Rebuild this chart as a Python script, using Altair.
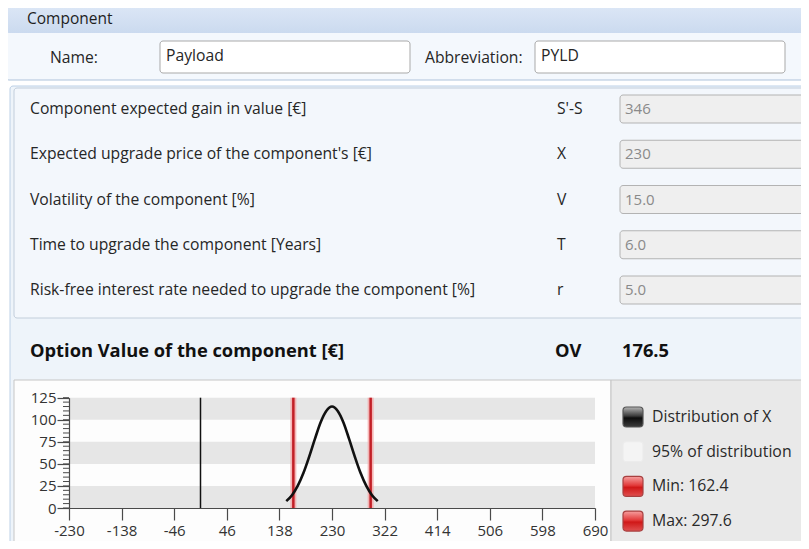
import altair as alt
import pandas as pd

# ---------------- data ----------------
header_title = "Component"
name_label, name_value = "Name:", "Payload"
abbr_label, abbr_value = "Abbreviation:", "PYLD"

param_labels = [
    "Component expected gain in value [€]",
    "Expected upgrade price of the component's [€]",
    "Volatility of the component [%]",
    "Time to upgrade the component [Years]",
    "Risk-free interest rate needed to upgrade the component [%]",
]
param_symbols = ["S'-S", "X", "V", "T", "r"]
param_values = ["346", "230", "15.0", "6.0", "5.0"]

ov_label, ov_symbol, ov_value = "Option Value of the component [€]", "OV", "176.5"

x_ticks = [-230, -138, -46, 46, 138, 230, 322, 414, 506, 598, 690]
y_ticks = [0, 25, 50, 75, 100, 125]
y_minor = [0, 5, 10, 15, 20, 25, 30, 35, 40, 45, 50, 55, 60, 65, 70, 75, 80,
           85, 90, 95, 100, 105, 110, 115, 120, 125]
band_lo = [0, 50, 100]
band_hi = [25, 75, 125]

curve_x = [150, 160, 170, 180, 190, 200, 210, 220, 230, 240, 250, 260, 270, 280, 290, 300, 310]
curve_y = [7.8, 14.5, 25, 39.6, 58, 78, 97, 110, 115, 110, 97, 78, 58, 39.6, 25, 14.5, 7.8]

dist_min, dist_max = 162.4, 297.6
zero_x = 0

legend_labels = ["Distribution of X", "95% of distribution", "Min: 162.4", "Max: 297.6"]

# ---------------- layout helpers ----------------
W, H = 793, 533
FONT = "Open Sans"
ONE = pd.DataFrame({"a": [0]})
FS = 15.7


def P(v):
    return v - 8


def grad(stops):
    return alt.LinearGradient(
        gradient="linear", x1=0, x2=0, y1=0, y2=1,
        stops=[alt.GradientStop(color=c, offset=o) for o, c in stops],
    )


def box(x1, y1, x2, y2, fill, stroke=None, sw=1.0, r=0):
    kw = dict(fill=fill, cornerRadius=r)
    if stroke:
        kw.update(stroke=stroke, strokeWidth=sw)
    else:
        kw.update(strokeWidth=0)
    return alt.Chart(ONE).mark_rect(**kw).encode(
        x=alt.value(P(x1)), x2=alt.value(P(x2)),
        y=alt.value(P(y1)), y2=alt.value(P(y2)),
    )


def txt(s, x, y, size=FS, weight="normal", color="#262626", align="left"):
    return alt.Chart(pd.DataFrame({"t": [s]})).mark_text(
        align=align, baseline="middle", font=FONT, fontSize=size,
        fontWeight=weight, color=color,
    ).encode(x=alt.value(P(x)), y=alt.value(P(y)), text="t:N")


layers = []

# ---------------- top "Component" panel ----------------
layers.append(box(5, 5, 820, 80, "#f4f8fd", "#aec3db", 1, 4))
layers.append(box(5.5, 5.5, 820, 33, grad([(0, "#dce7f6"), (1, "#cbdaef")]), None, 0, 4))
layers.append(txt(header_title, 27, 19, 15.5, color="#1e1e1e"))
layers.append(txt(name_label, 50, 58))
layers.append(box(160, 41, 410, 73, "#ffffff", "#a9a9a9", 1, 3))
layers.append(txt(name_value, 166, 56))
layers.append(txt(abbr_label, 425, 58))
layers.append(box(535, 41, 785, 73, "#ffffff", "#a9a9a9", 1, 3))
layers.append(txt(abbr_value, 541, 56))

# ---------------- parameter panel ----------------
layers.append(box(10, 86, 820, 560, "#eef4fa", "#bcd0e6", 1, 3))
layers.append(box(14, 88, 820, 318, "#f3f7fc", "#c2cedb", 1, 3))
for i, (lab, sym, val) in enumerate(zip(param_labels, param_symbols, param_values)):
    yc = 109 + 45.25 * i
    layers.append(txt(lab, 30, yc))
    layers.append(txt(sym, 557, yc))
    layers.append(box(620, yc - 14, 820, yc + 14, "#efefef", "#b3b3b3", 1, 3))
    layers.append(txt(val, 625, yc, 15, color="#8a8a8a"))

layers.append(txt(ov_label, 30, 352, 18.3, "bold", "#111111"))
layers.append(txt(ov_symbol, 555, 352, 18.3, "bold", "#111111"))
layers.append(txt(ov_value, 622, 352, 18.3, "bold", "#111111"))

# ---------------- chart panel backgrounds ----------------
layers.append(box(14, 380, 611, 560, "#fdfdfd", "#c6c6c6", 1, 0))
layers.append(box(611, 380, 820, 560, "#e9e9e9", "#c6c6c6", 1, 0))

# ---------------- plot ----------------
xs = alt.Scale(domain=[-230, 690], range=[P(69), P(595)], nice=False, zero=False)
ys = alt.Scale(domain=[0, 125], range=[P(508), P(397.7)], nice=False, zero=False)

axis_common = dict(
    title=None, grid=False, tickSize=12, tickColor="#4a4a4a",
    domainColor="#4a4a4a", tickWidth=1.2, domainWidth=1.2, labelFont=FONT,
    labelFontSize=15, labelColor="#333333", labelFlush=False,
    labelOverlap=False, zindex=2, labelExpr="'' + datum.value",
)
x_axis = alt.Axis(values=x_ticks, orient="bottom", offset=P(508) - H,
                  labelPadding=3, **axis_common)
y_axis = alt.Axis(values=y_ticks, orient="left", offset=-P(69),
                  labelPadding=1, **axis_common)

bands_df = pd.DataFrame({"lo": band_lo, "hi": band_hi,
                         "x0": [x_ticks[0]] * 3, "x1": [x_ticks[-1]] * 3})
layers.append(
    alt.Chart(bands_df).mark_rect(fill="#e6e6e6", strokeWidth=0).encode(
        x=alt.X("x0:Q", scale=xs, axis=x_axis), x2="x1:Q",
        y=alt.Y("lo:Q", scale=ys, axis=y_axis), y2="hi:Q",
    )
)

minor_df = pd.DataFrame({"v": y_minor})
layers.append(
    alt.Chart(minor_df).mark_rule(color="#4a4a4a", strokeWidth=1).encode(
        y=alt.Y("v:Q", scale=ys, axis=y_axis),
        x=alt.value(P(63)), x2=alt.value(P(69)),
    )
)

zero_df = pd.DataFrame({"x": [zero_x], "y0": [y_ticks[0]], "y1": [y_ticks[-1]]})
layers.append(
    alt.Chart(zero_df).mark_rule(color="#111111", strokeWidth=1.5).encode(
        x=alt.X("x:Q", scale=xs, axis=x_axis),
        y=alt.Y("y0:Q", scale=ys, axis=y_axis), y2="y1:Q",
    )
)

mm_df = pd.DataFrame({"x": [dist_min, dist_max], "y0": [0, 0], "y1": [125, 125]})
layers.append(
    alt.Chart(mm_df).mark_rule(color="#f4a6a6", strokeWidth=6, opacity=0.8).encode(
        x=alt.X("x:Q", scale=xs, axis=x_axis),
        y=alt.Y("y0:Q", scale=ys, axis=y_axis), y2="y1:Q",
    )
)
layers.append(
    alt.Chart(mm_df).mark_rule(color="#c21f26", strokeWidth=2.5).encode(
        x=alt.X("x:Q", scale=xs, axis=x_axis),
        y=alt.Y("y0:Q", scale=ys, axis=y_axis), y2="y1:Q",
    )
)

curve_df = pd.DataFrame({"x": curve_x, "y": curve_y})
layers.append(
    alt.Chart(curve_df).mark_line(color="#111111", strokeWidth=2.6,
                                  interpolate="monotone").encode(
        x=alt.X("x:Q", scale=xs, axis=x_axis),
        y=alt.Y("y:Q", scale=ys, axis=y_axis),
    )
)

# ---------------- legend ----------------
red = grad([(0, "#f6a0a0"), (0.45, "#e23a3a"), (0.55, "#d01818"), (1, "#e05050")])
sym_fills = [
    grad([(0, "#b5b5b5"), (0.45, "#3a3a3a"), (0.55, "#0d0d0d"), (1, "#3c3c3c")]),
    "#f4f4f4", red, red,
]
sym_strokes = ["#555555", "#ececec", "#a84040", "#a84040"]
for i, lab in enumerate(legend_labels):
    yc = 417 + 34.7 * i
    layers.append(box(623, yc - 10, 643, yc + 10, sym_fills[i], sym_strokes[i], 1.2, 3.5))
    layers.append(txt(lab, 652, yc, 15.8, color="#2a2a2a"))

chart = alt.layer(*layers).properties(
    width=W, height=H, padding=0,
    autosize=alt.AutoSizeParams(type="none"),
    background="#ffffff",
).configure_view(stroke=None)

chart.save("out.html", embed_options={"renderer": "svg", "actions": False})
